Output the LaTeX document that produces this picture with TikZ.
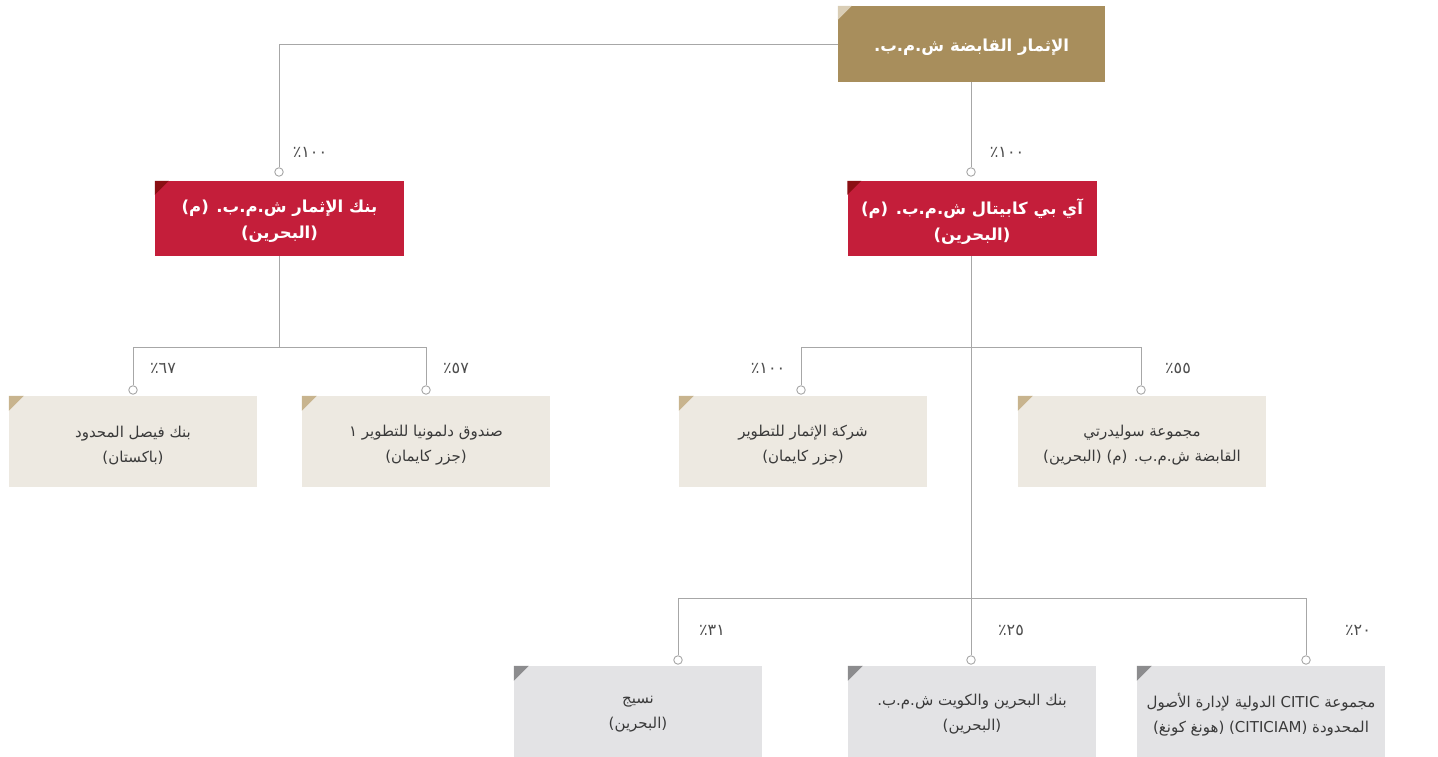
\documentclass[tikz,border=0pt]{standalone}
\usepackage{fontspec}
\setmainfont{DejaVu Sans}
\newfontfamily\arabicfont[Script=Arabic]{DejaVu Sans}
\TeXXeTstate=1
\definecolor{goldc}{HTML}{A88E5C}
\definecolor{goldcorner}{HTML}{D9CDB5}
\definecolor{redc}{HTML}{C41E3A}
\definecolor{redcorner}{HTML}{8B0F14}
\definecolor{beigec}{HTML}{EDE9E1}
\definecolor{beigecorner}{HTML}{C8B48E}
\definecolor{grayc}{HTML}{E3E3E5}
\definecolor{graycorner}{HTML}{8C8C8E}
\definecolor{linec}{HTML}{A7A7A7}
\definecolor{labelc}{HTML}{4D4D4D}
\definecolor{textc}{HTML}{3A3A3A}
\begin{document}
\begin{tikzpicture}[x=1pt,y=-1pt,
  box/.style={rectangle, inner sep=0pt, align=center, anchor=center},
  goldbox/.style={box, fill=goldc, minimum width=267pt, minimum height=76pt},
  redbox/.style={box, fill=redc, minimum width=249pt, minimum height=75pt},
  beigebox/.style={box, fill=beigec, minimum width=248pt, minimum height=91pt},
  graybox/.style={box, fill=grayc, minimum width=248pt, minimum height=91pt},
  headtext/.style={box, text=white, font=\arabicfont\bfseries\fontsize{16.5}{26}\selectfont},
  boxtext/.style={box, text=textc, font=\arabicfont\fontsize{15}{25}\selectfont},
  conn/.style={draw=linec, line width=0.9pt},
  dot/.style={circle, draw=linec, line width=0.9pt, fill=white, inner sep=0pt, minimum size=8.5pt},
  pct/.style={text=labelc, font=\arabicfont\fontsize{16}{18}\selectfont, inner sep=0pt}
]
\useasboundingbox (0,0) rectangle (1438,757);

% boxes
\node[goldbox] (top) at (971.5,44) {};
\node[redbox] (lred) at (279.5,218.5) {};
\node[redbox] (rred) at (972,218.5) {};
\node[beigebox] (b1) at (133,441.5) {};
\node[beigebox] (b2) at (426,441.5) {};
\node[beigebox] (b3) at (803,441.5) {};
\node[beigebox] (b4) at (1142,441.5) {};
\node[graybox] (g1) at (638,711.5) {};
\node[graybox] (g2) at (972,711.5) {};
\node[graybox] (g3) at (1261,711.5) {};

% texts
\node[headtext, yshift=-3pt] (topt) at (top) {\beginR الإثمار القابضة ش.م.ب.\endR};
\node[headtext, yshift=-3pt] (lredt) at (lred) {\beginR بنك الإثمار ش.م.ب. (م)\endR\\\beginR (البحرين)\endR};
\node[headtext, yshift=-3pt] (rredt) at (rred) {\beginR آي بي كابيتال ش.م.ب. (م)\endR\\\beginR (البحرين)\endR};
\node[boxtext, yshift=-4pt] (b1t) at (b1) {\beginR بنك فيصل المحدود\endR\\\beginR (باكستان)\endR};
\node[boxtext, yshift=-4pt] (b2t) at (b2) {\beginR صندوق دلمونيا للتطوير ١\endR\\\beginR (جزر كايمان)\endR};
\node[boxtext, yshift=-4pt] (b3t) at (b3) {\beginR شركة الإثمار للتطوير\endR\\\beginR (جزر كايمان)\endR};
\node[boxtext, yshift=-4pt] (b4t) at (b4) {\beginR مجموعة سوليدرتي\endR\\\beginR القابضة ش.م.ب. (م) (البحرين)\endR};
\node[boxtext, yshift=-3pt] (g1t) at (g1) {\beginR نسيج\endR\\\beginR (البحرين)\endR};
\node[boxtext, yshift=-3pt] (g2t) at (g2) {\beginR بنك البحرين والكويت ش.م.ب.\endR\\\beginR (البحرين)\endR};
\node[boxtext, yshift=-3pt] (g3t) at (g3) {\beginR مجموعة CITIC الدولية لإدارة الأصول\endR\\\beginR المحدودة (CITICIAM) (هونغ كونغ)\endR};

% corner triangles
\fill[goldcorner] (top.north west) -- ++(14,0) -- ++(-14,14) -- cycle;
\foreach \n in {lred,rred}{\fill[redcorner] (\n.north west) -- ++(14,0) -- ++(-14,14) -- cycle;}
\foreach \n in {b1,b2,b3,b4}{\fill[beigecorner] (\n.north west) -- ++(15,0) -- ++(-15,15) -- cycle;}
\foreach \n in {g1,g2,g3}{\fill[graycorner] (\n.north west) -- ++(15,0) -- ++(-15,15) -- cycle;}

% junction coordinates
\coordinate (jl) at (279,347);
\coordinate (jr) at (971,347);
\coordinate (jb) at (971,598);

% dots
\node[dot] (d1) at (279,172) {};
\node[dot] (d2) at (971,172) {};
\node[dot] (d3) at (133,390) {};
\node[dot] (d4) at (426,390) {};
\node[dot] (d5) at (801,390) {};
\node[dot] (d6) at (1141,390) {};
\node[dot] (d7) at (678,660) {};
\node[dot] (d8) at (971,660) {};
\node[dot] (d9) at (1306,660) {};

% connectors
\draw[conn] (top.west) -| (d1.north);
\draw[conn] (top.south -| d2) -- (d2.north);
\draw[conn] (lred.south -| jl) -- (jl);
\draw[conn] (d3.north) -- (d3.north |- jl) -- (d4.north |- jl) -- (d4.north);
\draw[conn] (rred.south -| jr) -- (jb);
\draw[conn] (d5.north) -- (d5.north |- jr) -- (d6.north |- jr) -- (d6.north);
\draw[conn] (d7.north) -- (d7.north |- jb) -- (d9.north |- jb) -- (d9.north);
\draw[conn] (jb) -- (d8.north);

% percentages
\node[pct] (p1) at (310,152) {١٠٠٪};
\node[pct] (p2) at (1007,152) {١٠٠٪};
\node[pct] (p3) at (163,368) {٦٧٪};
\node[pct] (p4) at (456,368) {٥٧٪};
\node[pct] (p5) at (768,368) {١٠٠٪};
\node[pct] (p6) at (1178,368) {٥٥٪};
\node[pct] (p7) at (712,630) {٣١٪};
\node[pct] (p8) at (1011,630) {٢٥٪};
\node[pct] (p9) at (1358,630) {٢٠٪};
\end{tikzpicture}
\end{document}
